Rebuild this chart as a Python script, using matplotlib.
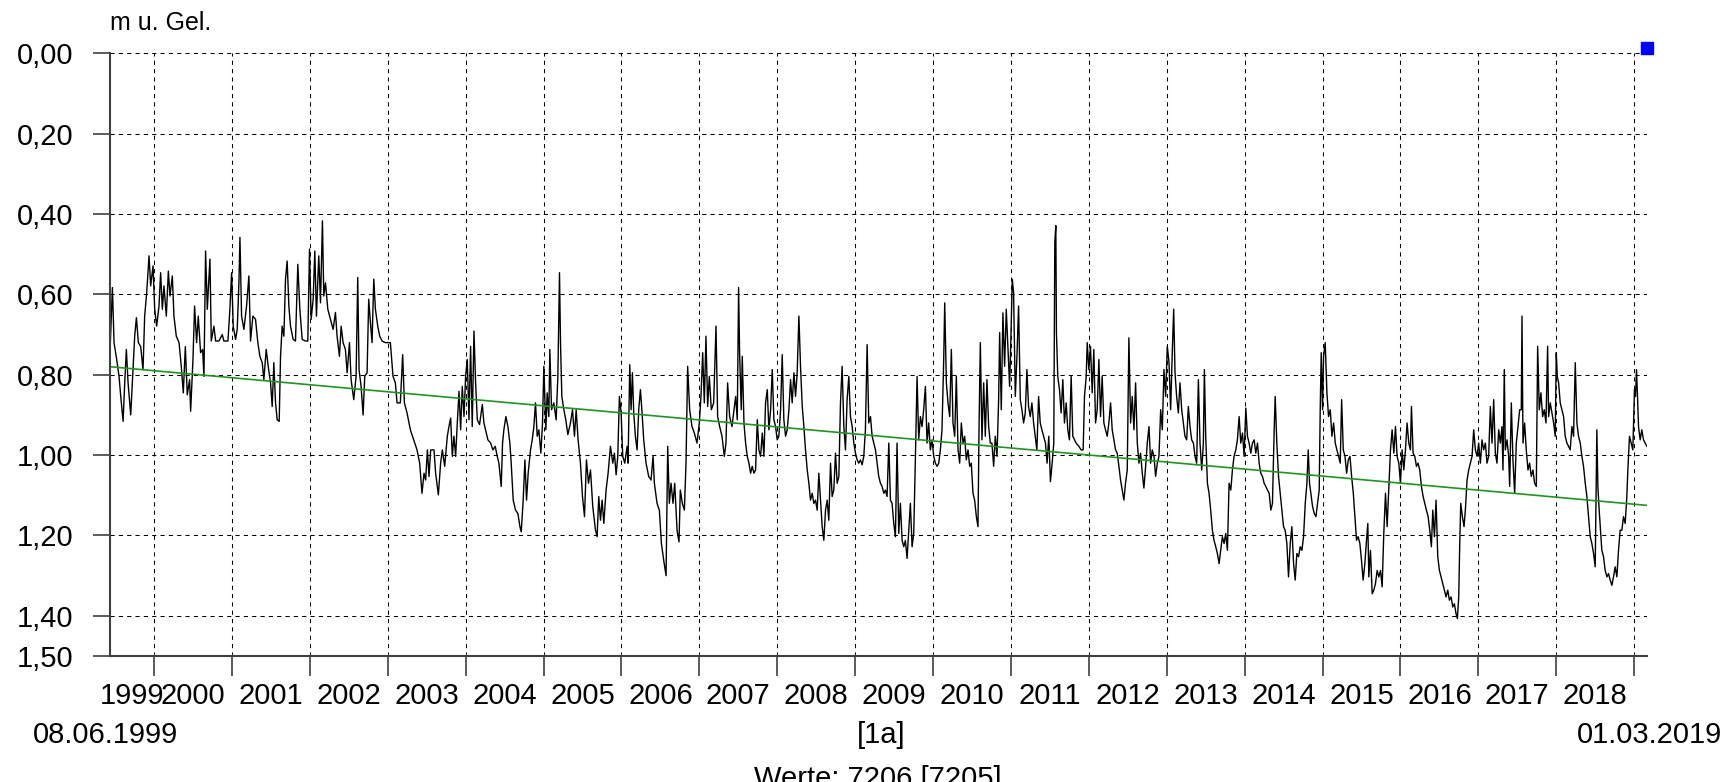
import matplotlib
matplotlib.use("Agg")
from matplotlib import pyplot as plt
from matplotlib.ticker import FixedLocator, FuncFormatter

plt.rcParams['font.family'] = ['Liberation Sans', 'DejaVu Sans']

# Wasserstand (m u. Gel.), Datum als Dezimaljahr
dates = [
    1999.436, 1999.444, 1999.466, 1999.487, 1999.521, 1999.551, 1999.573, 1999.603, 1999.624, 1999.645,
    1999.667, 1999.701, 1999.722, 1999.752, 1999.774, 1999.799, 1999.829, 1999.859, 1999.880, 1999.906,
    1999.936, 1999.957, 1999.987, 2000.009, 2000.034, 2000.064, 2000.085, 2000.107, 2000.128, 2000.158,
    2000.184, 2000.205, 2000.235, 2000.256, 2000.286, 2000.321, 2000.350, 2000.376, 2000.402, 2000.427,
    2000.457, 2000.470, 2000.500, 2000.521, 2000.547, 2000.568, 2000.598, 2000.624, 2000.641, 2000.662,
    2000.684, 2000.718, 2000.735, 2000.769, 2000.791, 2000.833, 2000.876, 2000.897, 2000.949, 2000.974,
    2000.996, 2001.017, 2001.047, 2001.068, 2001.090, 2001.103, 2001.124, 2001.154, 2001.188, 2001.218,
    2001.239, 2001.269, 2001.303, 2001.333, 2001.359, 2001.389, 2001.410, 2001.440, 2001.466, 2001.496,
    2001.517, 2001.538, 2001.560, 2001.581, 2001.607, 2001.624, 2001.645, 2001.667, 2001.688, 2001.709,
    2001.731, 2001.752, 2001.786, 2001.816, 2001.846, 2001.872, 2001.902, 2001.944, 2001.974, 2001.996,
    2002.017, 2002.043, 2002.064, 2002.085, 2002.115, 2002.137, 2002.162, 2002.179, 2002.201, 2002.231,
    2002.265, 2002.299, 2002.329, 2002.350, 2002.380, 2002.402, 2002.427, 2002.457, 2002.479, 2002.509,
    2002.530, 2002.564, 2002.594, 2002.615, 2002.632, 2002.658, 2002.684, 2002.705, 2002.735, 2002.756,
    2002.778, 2002.799, 2002.821, 2002.842, 2002.872, 2002.897, 2002.927, 2002.970, 2003.034, 2003.068,
    2003.098, 2003.120, 2003.162, 2003.192, 2003.214, 2003.248, 2003.291, 2003.333, 2003.376, 2003.410,
    2003.440, 2003.466, 2003.487, 2003.509, 2003.530, 2003.551, 2003.594, 2003.615, 2003.650, 2003.679,
    2003.701, 2003.731, 2003.765, 2003.786, 2003.808, 2003.829, 2003.850, 2003.872, 2003.893, 2003.915,
    2003.936, 2003.957, 2003.979, 2004.000, 2004.021, 2004.043, 2004.064, 2004.085, 2004.107, 2004.128,
    2004.150, 2004.179, 2004.214, 2004.235, 2004.256, 2004.286, 2004.321, 2004.350, 2004.380, 2004.406,
    2004.427, 2004.457, 2004.474, 2004.491, 2004.517, 2004.543, 2004.568, 2004.585, 2004.611, 2004.641,
    2004.671, 2004.697, 2004.714, 2004.739, 2004.761, 2004.782, 2004.803, 2004.833, 2004.855, 2004.876,
    2004.897, 2004.919, 2004.940, 2004.966, 2004.987, 2005.004, 2005.030, 2005.047, 2005.068, 2005.081,
    2005.103, 2005.132, 2005.162, 2005.184, 2005.205, 2005.218, 2005.235, 2005.261, 2005.286, 2005.312,
    2005.346, 2005.372, 2005.397, 2005.419, 2005.444, 2005.474, 2005.500, 2005.526, 2005.551, 2005.577,
    2005.603, 2005.632, 2005.667, 2005.688, 2005.709, 2005.731, 2005.752, 2005.774, 2005.803, 2005.829,
    2005.859, 2005.889, 2005.910, 2005.932, 2005.953, 2005.974, 2005.996, 2006.017, 2006.043, 2006.073,
    2006.085, 2006.107, 2006.124, 2006.141, 2006.158, 2006.179, 2006.201, 2006.222, 2006.244, 2006.265,
    2006.286, 2006.316, 2006.350, 2006.380, 2006.406, 2006.423, 2006.457, 2006.487, 2006.513, 2006.543,
    2006.573, 2006.594, 2006.615, 2006.637, 2006.662, 2006.684, 2006.714, 2006.739, 2006.756, 2006.782,
    2006.808, 2006.829, 2006.850, 2006.876, 2006.906, 2006.936, 2006.970, 2007.000, 2007.021, 2007.043,
    2007.064, 2007.085, 2007.107, 2007.128, 2007.154, 2007.184, 2007.214, 2007.235, 2007.261, 2007.291,
    2007.321, 2007.342, 2007.363, 2007.389, 2007.419, 2007.466, 2007.487, 2007.504, 2007.517, 2007.538,
    2007.551, 2007.573, 2007.594, 2007.615, 2007.637, 2007.658, 2007.679, 2007.701, 2007.722, 2007.744,
    2007.765, 2007.786, 2007.808, 2007.829, 2007.850, 2007.872, 2007.893, 2007.915, 2007.936, 2007.957,
    2007.979, 2008.000, 2008.021, 2008.043, 2008.064, 2008.085, 2008.107, 2008.128, 2008.150, 2008.171,
    2008.192, 2008.214, 2008.235, 2008.256, 2008.278, 2008.299, 2008.321, 2008.342, 2008.363, 2008.385,
    2008.406, 2008.427, 2008.449, 2008.470, 2008.491, 2008.513, 2008.534, 2008.556, 2008.577, 2008.598,
    2008.620, 2008.641, 2008.662, 2008.684, 2008.705, 2008.726, 2008.748, 2008.769, 2008.791, 2008.812,
    2008.833, 2008.855, 2008.876, 2008.897, 2008.919, 2008.940, 2008.962, 2008.983, 2009.004, 2009.026,
    2009.047, 2009.068, 2009.090, 2009.111, 2009.132, 2009.154, 2009.175, 2009.197, 2009.218, 2009.239,
    2009.261, 2009.282, 2009.303, 2009.325, 2009.346, 2009.368, 2009.389, 2009.410, 2009.432, 2009.453,
    2009.474, 2009.496, 2009.517, 2009.538, 2009.560, 2009.581, 2009.603, 2009.624, 2009.645, 2009.667,
    2009.688, 2009.709, 2009.731, 2009.752, 2009.774, 2009.795, 2009.816, 2009.838, 2009.859, 2009.880,
    2009.902, 2009.923, 2009.944, 2009.966, 2009.987, 2010.009, 2010.030, 2010.051, 2010.073, 2010.094,
    2010.115, 2010.137, 2010.150, 2010.171, 2010.192, 2010.214, 2010.235, 2010.256, 2010.278, 2010.299,
    2010.321, 2010.342, 2010.363, 2010.385, 2010.406, 2010.427, 2010.449, 2010.470, 2010.491, 2010.513,
    2010.534, 2010.556, 2010.577, 2010.590, 2010.607, 2010.628, 2010.650, 2010.671, 2010.692, 2010.714,
    2010.735, 2010.756, 2010.778, 2010.799, 2010.821, 2010.842, 2010.855, 2010.876, 2010.897, 2010.919,
    2010.940, 2010.962, 2010.983, 2011.000, 2011.017, 2011.034, 2011.056, 2011.077, 2011.098, 2011.120,
    2011.141, 2011.162, 2011.184, 2011.205, 2011.226, 2011.248, 2011.269, 2011.291, 2011.312, 2011.333,
    2011.355, 2011.376, 2011.397, 2011.443, 2011.464, 2011.486, 2011.507, 2011.529, 2011.550, 2011.563,
    2011.576, 2011.584, 2011.601, 2011.623, 2011.644, 2011.666, 2011.687, 2011.709, 2011.730, 2011.751,
    2011.773, 2011.794, 2011.816, 2011.837, 2011.871, 2011.901, 2011.927, 2011.944, 2011.966, 2011.979,
    2012.000, 2012.021, 2012.043, 2012.064, 2012.086, 2012.107, 2012.129, 2012.150, 2012.171, 2012.193,
    2012.214, 2012.236, 2012.257, 2012.279, 2012.300, 2012.321, 2012.343, 2012.364, 2012.386, 2012.407,
    2012.429, 2012.450, 2012.471, 2012.493, 2012.514, 2012.536, 2012.557, 2012.579, 2012.600, 2012.622,
    2012.643, 2012.664, 2012.686, 2012.707, 2012.729, 2012.750, 2012.772, 2012.793, 2012.814, 2012.836,
    2012.857, 2012.879, 2012.900, 2012.922, 2012.943, 2012.964, 2012.986, 2013.007, 2013.029, 2013.050,
    2013.072, 2013.089, 2013.106, 2013.127, 2013.149, 2013.170, 2013.192, 2013.213, 2013.234, 2013.256,
    2013.277, 2013.299, 2013.320, 2013.342, 2013.363, 2013.384, 2013.406, 2013.427, 2013.449, 2013.470,
    2013.483, 2013.500, 2013.522, 2013.543, 2013.564, 2013.586, 2013.607, 2013.629, 2013.650, 2013.672,
    2013.693, 2013.714, 2013.736, 2013.757, 2013.779, 2013.800, 2013.822, 2013.843, 2013.864, 2013.886,
    2013.907, 2013.929, 2013.950, 2013.972, 2013.993, 2014.015, 2014.036, 2014.057, 2014.079, 2014.100,
    2014.122, 2014.143, 2014.165, 2014.186, 2014.207, 2014.229, 2014.250, 2014.272, 2014.293, 2014.315,
    2014.336, 2014.357, 2014.379, 2014.392, 2014.413, 2014.435, 2014.456, 2014.478, 2014.499, 2014.520,
    2014.542, 2014.563, 2014.585, 2014.606, 2014.628, 2014.649, 2014.670, 2014.692, 2014.713, 2014.735,
    2014.756, 2014.778, 2014.799, 2014.816, 2014.833, 2014.850, 2014.872, 2014.893, 2014.915, 2014.936,
    2014.957, 2014.970, 2014.983, 2015.000, 2015.013, 2015.034, 2015.056, 2015.077, 2015.099, 2015.120,
    2015.142, 2015.163, 2015.184, 2015.206, 2015.227, 2015.245, 2015.266, 2015.288, 2015.309, 2015.330,
    2015.352, 2015.373, 2015.395, 2015.415, 2015.436, 2015.457, 2015.479, 2015.500, 2015.521, 2015.543,
    2015.564, 2015.581, 2015.594, 2015.615, 2015.637, 2015.658, 2015.679, 2015.701, 2015.722, 2015.744,
    2015.765, 2015.786, 2015.808, 2015.829, 2015.850, 2015.872, 2015.893, 2015.915, 2015.936, 2015.957,
    2015.979, 2016.000, 2016.021, 2016.043, 2016.064, 2016.085, 2016.107, 2016.128, 2016.141, 2016.162,
    2016.184, 2016.205, 2016.226, 2016.248, 2016.269, 2016.291, 2016.312, 2016.333, 2016.355, 2016.376,
    2016.397, 2016.415, 2016.436, 2016.457, 2016.479, 2016.500, 2016.521, 2016.543, 2016.564, 2016.585,
    2016.607, 2016.628, 2016.650, 2016.671, 2016.692, 2016.714, 2016.731, 2016.748, 2016.761, 2016.774,
    2016.795, 2016.816, 2016.833, 2016.855, 2016.876, 2016.897, 2016.919, 2016.940, 2016.962, 2016.983,
    2017.004, 2017.026, 2017.047, 2017.068, 2017.090, 2017.111, 2017.132, 2017.154, 2017.175, 2017.197,
    2017.218, 2017.239, 2017.261, 2017.282, 2017.303, 2017.316, 2017.333, 2017.346, 2017.368, 2017.389,
    2017.402, 2017.423, 2017.444, 2017.466, 2017.487, 2017.509, 2017.530, 2017.551, 2017.560, 2017.573,
    2017.594, 2017.615, 2017.637, 2017.658, 2017.679, 2017.701, 2017.722, 2017.744, 2017.761, 2017.782,
    2017.803, 2017.825, 2017.846, 2017.868, 2017.889, 2017.902, 2017.923, 2017.944, 2017.966, 2017.987,
    2018.000, 2018.013, 2018.030, 2018.051, 2018.073, 2018.094, 2018.115, 2018.137, 2018.158, 2018.179,
    2018.201, 2018.222, 2018.244, 2018.265, 2018.286, 2018.308, 2018.329, 2018.350, 2018.372, 2018.393,
    2018.415, 2018.436, 2018.457, 2018.479, 2018.500, 2018.513, 2018.521, 2018.534, 2018.551, 2018.568,
    2018.585, 2018.607, 2018.628, 2018.650, 2018.671, 2018.692, 2018.714, 2018.735, 2018.756, 2018.778,
    2018.799, 2018.820, 2018.842, 2018.863, 2018.885, 2018.906, 2018.919, 2018.940, 2018.962, 2018.983,
    2019.004, 2019.017, 2019.030, 2019.043, 2019.056, 2019.077, 2019.098, 2019.120, 2019.162,
]

levels = [
    0.737, 0.695, 0.583, 0.720, 0.762, 0.804, 0.854, 0.916, 0.820, 0.737,
    0.820, 0.900, 0.820, 0.704, 0.658, 0.720, 0.730, 0.787, 0.654, 0.596,
    0.504, 0.579, 0.529, 0.637, 0.679, 0.629, 0.546, 0.637, 0.579, 0.654,
    0.542, 0.604, 0.554, 0.654, 0.704, 0.720, 0.779, 0.845, 0.730, 0.850,
    0.812, 0.891, 0.762, 0.629, 0.720, 0.654, 0.745, 0.737, 0.804, 0.492,
    0.637, 0.512, 0.716, 0.679, 0.716, 0.716, 0.700, 0.716, 0.716, 0.637,
    0.546, 0.679, 0.712, 0.687, 0.571, 0.458, 0.654, 0.687, 0.629, 0.554,
    0.716, 0.654, 0.662, 0.720, 0.754, 0.770, 0.812, 0.737, 0.779, 0.820,
    0.879, 0.770, 0.870, 0.912, 0.916, 0.754, 0.679, 0.704, 0.562, 0.517,
    0.629, 0.679, 0.712, 0.716, 0.525, 0.637, 0.712, 0.716, 0.716, 0.487,
    0.662, 0.612, 0.492, 0.654, 0.504, 0.621, 0.417, 0.604, 0.571, 0.637,
    0.662, 0.687, 0.645, 0.704, 0.754, 0.679, 0.720, 0.737, 0.795, 0.720,
    0.812, 0.862, 0.804, 0.558, 0.787, 0.829, 0.900, 0.804, 0.795, 0.612,
    0.670, 0.720, 0.562, 0.637, 0.679, 0.704, 0.716, 0.720, 0.720, 0.804,
    0.820, 0.870, 0.870, 0.750, 0.870, 0.895, 0.937, 0.962, 0.987, 1.020,
    1.095, 1.045, 1.062, 0.987, 1.053, 0.987, 0.987, 1.045, 1.099, 1.020,
    0.987, 1.028, 0.953, 0.929, 0.908, 1.003, 0.953, 1.003, 0.920, 0.841,
    0.937, 0.829, 0.904, 0.804, 0.762, 0.912, 0.729, 0.929, 0.691, 0.820,
    0.912, 0.924, 0.874, 0.920, 0.937, 0.962, 0.970, 0.987, 0.978, 1.003,
    1.020, 1.078, 0.970, 0.937, 0.904, 0.929, 0.970, 1.020, 1.112, 1.137,
    1.145, 1.178, 1.191, 1.112, 1.012, 1.112, 1.045, 0.987, 0.962, 0.929,
    0.870, 0.953, 0.937, 0.995, 0.920, 0.779, 0.937, 0.845, 0.904, 0.737,
    0.887, 0.870, 0.912, 0.804, 0.546, 0.720, 0.854, 0.887, 0.912, 0.949,
    0.920, 0.887, 0.953, 0.887, 0.962, 1.020, 1.103, 1.153, 1.012, 1.070,
    1.037, 1.128, 1.187, 1.203, 1.103, 1.162, 1.112, 1.170, 1.087, 1.045,
    0.978, 1.020, 0.995, 1.049, 1.003, 0.854, 0.895, 1.003, 1.020, 0.978,
    1.020, 0.775, 0.887, 0.795, 0.895, 0.953, 0.987, 0.887, 0.837, 0.895,
    0.962, 1.020, 1.053, 1.062, 1.003, 1.070, 1.120, 1.137, 1.220, 1.262,
    1.300, 0.978, 1.120, 1.070, 1.120, 1.070, 1.187, 1.216, 1.087, 1.120,
    1.137, 1.020, 0.779, 0.887, 0.929, 0.945, 0.970, 0.920, 0.854, 0.745,
    0.870, 0.704, 0.879, 0.804, 0.887, 0.870, 0.679, 0.904, 0.929, 0.953,
    1.003, 0.970, 0.820, 0.904, 0.929, 0.854, 0.912, 0.583, 0.745, 0.887,
    0.754, 0.920, 0.970, 1.003, 1.020, 1.045, 1.028, 1.045, 1.037, 0.912,
    0.987, 1.003, 0.945, 1.003, 0.870, 0.837, 0.937, 0.887, 0.787, 0.912,
    0.929, 0.962, 0.953, 0.887, 0.750, 0.912, 0.953, 0.937, 0.887, 0.812,
    0.870, 0.795, 0.854, 0.795, 0.654, 0.779, 0.879, 0.929, 0.987, 1.037,
    1.070, 1.112, 1.095, 1.120, 1.112, 1.137, 1.045, 1.112, 1.178, 1.212,
    1.137, 1.112, 1.162, 1.020, 1.103, 1.087, 0.995, 1.070, 1.053, 0.870,
    0.779, 0.929, 0.987, 0.862, 0.804, 0.904, 0.929, 0.970, 0.995, 1.012,
    1.020, 1.012, 1.024, 1.003, 0.937, 0.725, 0.920, 0.904, 0.953, 0.970,
    0.987, 1.020, 1.053, 1.070, 1.078, 1.095, 1.087, 1.103, 0.970, 1.112,
    1.120, 1.170, 1.203, 0.970, 1.195, 1.120, 1.212, 1.228, 1.212, 1.257,
    1.187, 1.120, 1.228, 1.195, 1.003, 0.804, 0.962, 0.904, 0.929, 0.887,
    0.829, 0.970, 0.920, 0.987, 0.962, 1.003, 1.020, 1.028, 1.020, 0.987,
    0.937, 0.762, 0.621, 0.820, 0.870, 0.904, 0.737, 0.920, 0.953, 0.804,
    0.987, 1.020, 0.920, 0.970, 0.953, 1.012, 0.987, 1.028, 1.020, 1.095,
    1.112, 1.153, 1.178, 0.937, 0.720, 0.962, 0.820, 0.953, 0.812, 0.929,
    0.970, 0.970, 1.028, 0.953, 1.003, 0.862, 0.695, 0.887, 0.646, 0.779,
    0.637, 0.737, 0.829, 0.704, 0.562, 0.596, 0.854, 0.754, 0.629, 0.862,
    0.887, 0.920, 0.895, 0.787, 0.879, 0.904, 0.870, 0.920, 0.953, 0.987,
    0.854, 0.920, 0.937, 0.970, 1.020, 0.953, 1.066, 1.020, 0.970, 0.471,
    0.429, 0.695, 0.804, 0.837, 0.895, 0.812, 0.920, 0.870, 0.937, 0.962,
    0.804, 0.953, 0.962, 0.970, 0.978, 0.987, 0.987, 0.854, 0.804, 0.720,
    0.787, 0.729, 0.845, 0.737, 0.920, 0.887, 0.762, 0.904, 0.804, 0.920,
    0.937, 0.953, 0.920, 0.870, 0.937, 0.962, 0.987, 0.995, 1.028, 1.062,
    1.087, 1.112, 1.070, 1.037, 0.708, 0.920, 0.854, 0.937, 0.820, 0.970,
    1.020, 0.995, 1.045, 1.082, 1.028, 0.970, 0.929, 1.020, 0.987, 1.003,
    1.053, 1.020, 1.003, 0.887, 0.937, 0.787, 0.854, 0.729, 0.770, 0.887,
    0.737, 0.637, 0.795, 0.854, 0.895, 0.820, 0.887, 0.920, 0.953, 0.962,
    0.879, 0.929, 0.962, 0.970, 1.003, 1.020, 0.812, 0.970, 1.037, 0.970,
    0.787, 0.953, 1.070, 1.095, 1.137, 1.187, 1.212, 1.228, 1.245, 1.270,
    1.237, 1.203, 1.220, 1.195, 1.237, 1.070, 1.087, 1.037, 1.003, 0.987,
    0.962, 0.904, 0.970, 0.945, 1.003, 0.883, 0.953, 0.970, 0.995, 0.970,
    0.962, 0.995, 0.970, 1.020, 1.045, 1.053, 1.070, 1.078, 1.087, 1.095,
    1.137, 1.120, 0.937, 0.854, 0.970, 1.053, 1.095, 1.137, 1.178, 1.187,
    1.220, 1.303, 1.220, 1.178, 1.270, 1.311, 1.245, 1.253, 1.228, 1.237,
    1.203, 1.120, 1.070, 0.987, 1.070, 1.095, 1.128, 1.145, 1.153, 1.120,
    1.087, 0.887, 0.745, 0.887, 0.754, 0.720, 0.845, 0.904, 0.887, 0.953,
    0.920, 0.970, 0.987, 1.003, 1.020, 0.862, 0.987, 1.003, 1.045, 1.012,
    1.003, 1.053, 1.095, 1.153, 1.212, 1.203, 1.220, 1.262, 1.311, 1.270,
    1.212, 1.170, 1.303, 1.237, 1.345, 1.336, 1.320, 1.287, 1.303, 1.287,
    1.328, 1.195, 1.095, 1.178, 1.087, 0.987, 0.937, 0.995, 0.929, 1.003,
    1.020, 1.070, 0.987, 1.037, 0.987, 0.920, 0.970, 0.987, 0.879, 0.995,
    1.003, 1.028, 1.020, 1.037, 1.078, 1.103, 1.120, 1.137, 1.153, 1.187,
    1.228, 1.137, 1.203, 1.112, 1.253, 1.287, 1.303, 1.320, 1.336, 1.353,
    1.336, 1.361, 1.353, 1.378, 1.370, 1.395, 1.407, 1.353, 1.220, 1.120,
    1.153, 1.178, 1.137, 1.062, 1.037, 1.020, 1.003, 0.937, 0.987, 1.003,
    0.970, 1.020, 0.962, 0.987, 0.970, 1.020, 1.003, 0.879, 0.970, 0.862,
    0.995, 1.020, 0.937, 0.970, 0.929, 1.037, 0.787, 0.987, 0.962, 1.003,
    1.078, 0.870, 1.012, 1.095, 0.970, 0.929, 0.887, 0.887, 0.654, 0.970,
    0.920, 0.987, 1.037, 1.020, 1.053, 1.037, 1.070, 1.078, 0.729, 0.887,
    0.845, 0.904, 0.887, 0.920, 0.729, 0.904, 0.870, 0.895, 0.920, 0.953,
    0.745, 0.804, 0.820, 0.870, 0.887, 0.904, 0.953, 0.970, 0.978, 0.987,
    0.929, 0.953, 0.770, 0.920, 0.953, 0.970, 1.003, 1.028, 1.070, 1.103,
    1.153, 1.203, 1.220, 1.245, 1.278, 1.070, 0.937, 1.078, 1.137, 1.187,
    1.237, 1.253, 1.287, 1.303, 1.295, 1.311, 1.324, 1.303, 1.278, 1.303,
    1.237, 1.187, 1.187, 1.153, 1.170, 1.103, 1.037, 0.953, 0.970, 0.987,
    0.837, 0.854, 0.787, 0.854, 0.929, 0.962, 0.937, 0.962, 0.978,
]

# Trendlinie
trend_dates = [1999.436, 2019.162]
trend_levels = [0.780, 1.125]

# blauer Marker rechts oben
marker_date = 2019.162
marker_level = -0.014

start, end = 1999.436, 2019.162
years = list(range(2000, 2020))
year_labels = list(range(1999, 2019))
yticks = [0.0, 0.2, 0.4, 0.6, 0.8, 1.0, 1.2, 1.4, 1.5]

fig = plt.figure(figsize=(17.28, 7.82), dpi=100)
ax = fig.add_axes([0.0637, 0.1611, 0.8893, 0.7707])

ax.plot(dates, levels, color='black', linewidth=1.0)
ax.plot(trend_dates, trend_levels, color='#1e961e', linewidth=1.2)
ax.plot([marker_date], [marker_level], 's', color='#0000ff', markersize=8, clip_on=False)

ax.set_xlim(start, end)
ax.set_ylim(1.5, 0)

# Jahresgrenzen als Hauptticks, Jahreszahlen mittig dazwischen
ax.xaxis.set_major_locator(FixedLocator(years))
centers = [(max(start, y) + min(end, y + 1)) / 2 for y in year_labels]
ax.xaxis.set_minor_locator(FixedLocator(centers))
ax.xaxis.set_minor_formatter(FuncFormatter(lambda v, p: str(year_labels[p]) if p is not None and p < len(year_labels) else ''))
ax.tick_params(axis='x', which='major', length=14.4, width=1.2, color='#404040', labelbottom=False)
ax.tick_params(axis='x', which='minor', length=0, labelsize=21, pad=19)

ax.yaxis.set_major_locator(FixedLocator(yticks))
ax.yaxis.set_major_formatter(FuncFormatter(lambda v, p: f"{v:.2f}".replace('.', ',')))
ax.tick_params(axis='y', length=12.2, width=1.2, color='#404040', labelsize=21, pad=14)

ax.grid(True, which='major', color='black', linewidth=0.75, linestyle=(0, (4, 4)))
for s in ['top', 'right']:
    ax.spines[s].set_visible(False)
for s in ['left', 'bottom']:
    ax.spines[s].set_color('#404040')
    ax.spines[s].set_linewidth(1.5)

fig.text(110 / 1728, 1 - 23 / 782, 'm u. Gel.', fontsize=18, ha='left', va='center')
fig.text(33 / 1728, 1 - 735 / 782, '08.06.1999', fontsize=21, ha='left', va='center')
fig.text(1722 / 1728, 1 - 735 / 782, '01.03.2019', fontsize=21, ha='right', va='center')
fig.text(881 / 1728, 1 - 735 / 782, '[1a]', fontsize=21, ha='center', va='center')
fig.text(878 / 1728, 1 - 765 / 782, 'Werte: 7206 [7205]', fontsize=21, ha='center', va='top')

fig.savefig('out.png', dpi=100)
